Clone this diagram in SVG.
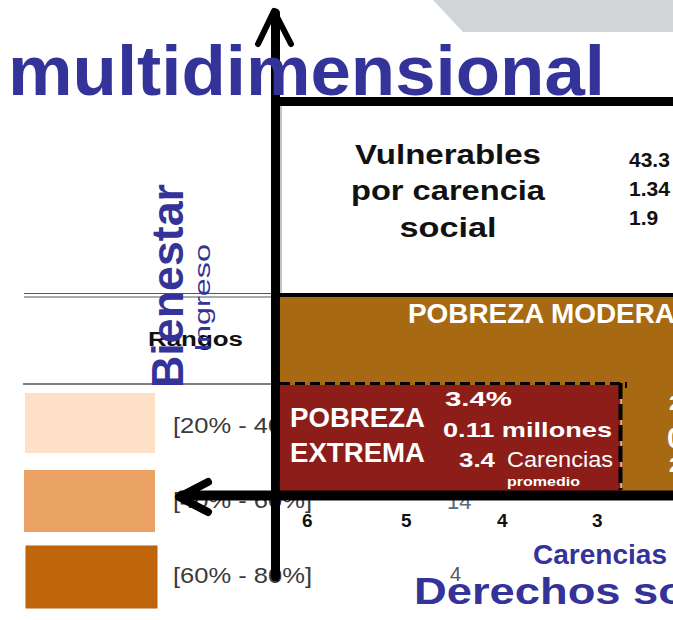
<svg xmlns="http://www.w3.org/2000/svg" width="673" height="620" viewBox="0 0 673 620">
<defs>
<style>
.t{font-family:"Liberation Sans",Arial,sans-serif}
.b{font-weight:bold}
.blue{fill:#333399}
.w{fill:#ffffff}
.k{fill:#111111}
.lg{fill:#3a3a3a;font-size:22px}
.ax{stroke:#000;fill:none;stroke-linecap:round;stroke-linejoin:round}
</style>
</defs>
<rect width="673" height="620" fill="#ffffff"/>
<polygon points="433,0 673,0 673,32 463,32" fill="#d2d5d8"/>

<g id="legend">
<line x1="24" y1="293.5" x2="271" y2="293.5" stroke="#555" stroke-width="1"/>
<line x1="24" y1="297" x2="271" y2="297" stroke="#555" stroke-width="1"/>
<line x1="23" y1="384" x2="271" y2="384" stroke="#555" stroke-width="1.5"/>
<text class="t b k" x="148" y="346" font-size="20" textLength="95" lengthAdjust="spacingAndGlyphs">Rangos</text>
<rect x="25" y="393" width="130" height="60" fill="#fde0c5"/>
<rect x="24" y="470" width="131" height="62" fill="#e9a263"/>
<rect x="26" y="546" width="131" height="62" fill="#c0660a" stroke="#b45f10" stroke-width="1"/>
<text class="t lg" x="173" y="433" textLength="139" lengthAdjust="spacingAndGlyphs">[20% - 40%]</text>
<text class="t lg" x="173" y="508" textLength="139" lengthAdjust="spacingAndGlyphs">[40% - 60%]</text>
<text class="t lg" x="173" y="583" textLength="139" lengthAdjust="spacingAndGlyphs">[60% - 80%]</text>
<text class="t" x="447" y="509" font-size="22" fill="#5a6a7a">14</text>
<text class="t" x="450" y="581" font-size="20" fill="#555">4</text>
</g>

<g id="vulnerables">
<rect x="271" y="97" width="402" height="198" fill="#ffffff"/>
<rect x="271" y="97" width="402" height="9" fill="#000"/>
<line x1="281" y1="106" x2="281" y2="293" stroke="#888" stroke-width="1"/>
<text class="t b k" x="448" y="164" font-size="28" text-anchor="middle" textLength="186" lengthAdjust="spacingAndGlyphs">Vulnerables</text>
<text class="t b k" x="448" y="200" font-size="28" text-anchor="middle" textLength="194" lengthAdjust="spacingAndGlyphs">por carencia</text>
<text class="t b k" x="448" y="237" font-size="28" text-anchor="middle" textLength="97" lengthAdjust="spacingAndGlyphs">social</text>
<text class="t b k" x="629" y="167" font-size="21">43.3</text>
<text class="t b k" x="629" y="196" font-size="21">1.34</text>
<text class="t b k" x="629" y="225" font-size="21">1.9</text>
</g>

<g id="pobreza-moderada">
<rect x="280" y="293" width="393" height="4" fill="#000"/>
<rect x="280" y="297" width="393" height="195" fill="#a76a13"/>
<text class="t b w" x="408" y="323" font-size="27" textLength="267" lengthAdjust="spacingAndGlyphs">POBREZA MODERA</text>
<text class="t b w" x="669" y="410" font-size="20">2</text>
<text class="t b w" x="667" y="448" font-size="29">0</text>
<text class="t b w" x="669" y="472" font-size="20">2</text>
</g>

<g id="pobreza-extrema">
<rect x="280" y="385" width="341" height="107" fill="#8c1d18"/>
<line x1="280" y1="383.5" x2="624" y2="383.5" stroke="#000" stroke-width="3" stroke-dasharray="10 5"/>
<line x1="621" y1="383" x2="621" y2="490" stroke="#ffffff" stroke-width="1"/>
<line x1="620.5" y1="383" x2="620.5" y2="490" stroke="#000" stroke-width="4" stroke-dasharray="16 5"/>
<line x1="626" y1="382" x2="626" y2="388" stroke="#000" stroke-width="2"/>
<text class="t b w" x="290" y="427" font-size="27" textLength="135" lengthAdjust="spacingAndGlyphs">POBREZA</text>
<text class="t b w" x="290" y="462" font-size="27" textLength="135" lengthAdjust="spacingAndGlyphs">EXTREMA</text>
<text class="t b w" x="445" y="406" font-size="20" textLength="67" lengthAdjust="spacingAndGlyphs">3.4%</text>
<text class="t b w" x="443" y="437" font-size="21" textLength="169" lengthAdjust="spacingAndGlyphs">0.11 millones</text>
<text class="t b w" x="459" y="467" font-size="21" textLength="36" lengthAdjust="spacingAndGlyphs">3.4</text>
<text class="t w" x="507" y="467" font-size="22" textLength="106" lengthAdjust="spacingAndGlyphs">Carencias</text>
<text class="t b w" x="507" y="486" font-size="13" textLength="73" lengthAdjust="spacingAndGlyphs">promedio</text>
</g>

<g id="connectors">
<line class="ax" x1="275.5" y1="13" x2="275.5" y2="577" stroke-width="9" stroke-linecap="butt"/>
<path class="ax" d="M258,44 L274,11 L291,44" stroke-width="6"/>
<line class="ax" x1="182" y1="495.5" x2="673" y2="495.5" stroke-width="10" stroke-linecap="butt"/>
<path class="ax" d="M208,482 L179,497 L208,512" stroke-width="8"/>
</g>

<g id="axis-labels">
<text class="t b k" x="302" y="527" font-size="19">6</text>
<text class="t b k" x="401" y="527" font-size="19">5</text>
<text class="t b k" x="497" y="527" font-size="19">4</text>
<text class="t b k" x="592" y="527" font-size="19">3</text>
<text class="t b blue" x="533" y="564" font-size="27" textLength="134" lengthAdjust="spacingAndGlyphs">Carencias</text>
<text class="t b blue" x="414" y="604" font-size="37" textLength="272" lengthAdjust="spacingAndGlyphs">Derechos so</text>
<text class="t b blue" transform="translate(183,388) rotate(-90)" font-size="44" textLength="204" lengthAdjust="spacingAndGlyphs">Bienestar</text>
<text class="t blue" transform="translate(210,352) rotate(-90)" font-size="22" textLength="108" lengthAdjust="spacingAndGlyphs">Ingreso</text>
</g>

<g id="title">
<text class="t b blue" x="8" y="95" font-size="70" textLength="597" lengthAdjust="spacingAndGlyphs">multidimensional</text>
</g>
</svg>
